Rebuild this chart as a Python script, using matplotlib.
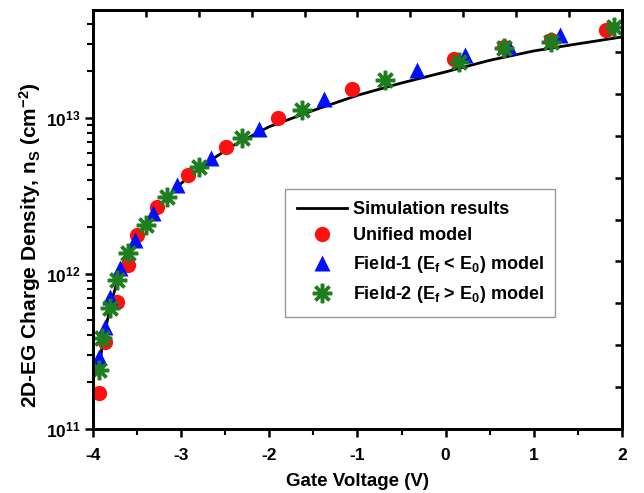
import numpy as np
import matplotlib.pyplot as plt

# simulation curve
sim_v = [-3.93, -3.9, -3.85, -3.8, -3.7, -3.6, -3.5, -3.3, -3.0, -2.7, -2.4, -2.0,
         -1.5, -1.0, -0.5, 0.0, 0.5, 1.0, 1.5, 2.0]
sim_n = [2.2e11, 3.3e11, 4.6e11, 6.3e11, 1.0e12, 1.35e12, 1.75e12, 2.5e12, 3.8e12,
         5.2e12, 6.7e12, 8.8e12, 1.12e13, 1.40e13, 1.68e13, 1.98e13, 2.35e13,
         2.7e13, 3.0e13, 3.32e13]

# unified model
uni_v = [-3.93, -3.86, -3.73, -3.60, -3.50, -3.27, -2.92, -2.49, -1.90, -1.06, 0.09, 0.66, 1.19, 1.82]
uni_n = [1.70e11, 3.63e11, 6.56e11, 1.13e12, 1.77e12, 2.68e12, 4.30e12, 6.51e12,
         1.0e13, 1.54e13, 2.39e13, 2.86e13, 3.17e13, 3.68e13]

# field-1 model
f1_v = [-3.93, -3.86, -3.81, -3.69, -3.52, -3.32, -3.05, -2.66, -2.12, -1.375, -0.32, 0.22, 0.72, 1.30]
f1_n = [2.90e11, 4.53e11, 7.06e11, 1.08e12, 1.64e12, 2.45e12, 3.71e12, 5.53e12,
        8.50e12, 1.33e13, 2.04e13, 2.54e13, 2.85e13, 3.42e13]

# field-2 model
f2_v = [-3.93, -3.90, -3.81, -3.73, -3.60, -3.40, -3.16, -2.80, -2.31, -1.63, -0.69, 0.15, 0.66, 1.19, 1.91]
f2_n = [2.40e11, 3.85e11, 6.0e11, 9.08e11, 1.36e12, 2.05e12, 3.10e12, 4.84e12,
        7.43e12, 1.12e13, 1.75e13, 2.29e13, 2.82e13, 3.08e13, 3.85e13]

plt.rcParams['font.family'] = 'Liberation Sans'
plt.rcParams['font.weight'] = 'bold'
plt.rcParams['mathtext.fontset'] = 'custom'
plt.rcParams['mathtext.rm'] = 'Liberation Sans:bold'
plt.rcParams['mathtext.it'] = 'Liberation Sans:bold'
plt.rcParams['mathtext.bf'] = 'Liberation Sans:bold'
plt.rcParams['axes.unicode_minus'] = False

fig = plt.figure(figsize=(6.44, 4.93), dpi=100)
ax = fig.add_axes([0.1444, 0.1298, 0.8214, 0.8499])

green = '#1e7d1e'
ax.plot(sim_v, sim_n, '-', color='black', lw=2, label='Simulation results', zorder=2)
ax.plot(uni_v, uni_n, 'o', color='#ff1010', ms=11, mec='none', label='Unified model', zorder=3)
ax.plot(f1_v, f1_n, '^', color='#0010ff', ms=12, mec='none',
        label=r'Field-1 (E$_\mathregular{f}$ < E$_\mathregular{0}$) model', zorder=4)
ax.plot(f2_v, f2_n, ls='none', marker=(8, 2, 0), color=green, mec=green, ms=14, mew=2.5,
        label=r'Field-2 (E$_\mathregular{f}$ > E$_\mathregular{0}$) model', zorder=5)

ax.set_yscale('log')
ax.set_xlim(-4, 2)
ax.set_ylim(1e11, 4.95e13)
ax.set_xticks([-4, -3, -2, -1, 0, 1, 2])
ax.set_xticks(np.arange(-3.5, 2, 1.0), minor=True)
ax.set_yticks([1e11, 1e12, 1e13])
ax.set_yticklabels([r'$\mathregular{10^{11}}$', r'$\mathregular{10^{12}}$', r'$\mathregular{10^{13}}$'])
ax.tick_params(axis='both', which='major', labelsize=12.5, width=1.8, length=6, direction='out')
ax.tick_params(axis='x', which='major', pad=8)
ax.tick_params(axis='y', which='major', pad=3)
ax.tick_params(axis='both', which='minor', width=1.5, length=4, direction='out')
ax.tick_params(axis='y', which='minor', labelleft=False)
for s in ax.spines.values():
    s.set_linewidth(1.8)

ax.set_xlabel('Gate Voltage (V)', fontsize=13.5, fontweight='bold', labelpad=7)
ax.set_ylabel(r'2D-EG Charge Density, n$_\mathregular{S}$ (cm$^\mathregular{-2}$)',
              fontsize=15, fontweight='bold')
ax.yaxis.set_label_coords(-0.095, 0.44)

leg = ax.legend(loc='upper left', bbox_to_anchor=(0.363, 0.572), borderaxespad=0,
                fontsize=13, frameon=True, fancybox=False, edgecolor='#999999', framealpha=1,
                handlelength=2.8, handletextpad=0.3, labelspacing=0.52, borderpad=0.65)
leg.get_frame().set_linewidth(1.0)

# mirrored ticks on top and right
top = ax.twiny()
top.set_xlim(-4, 2)
top.set_xticks(np.arange(-4, 2.01, 0.6))
top.tick_params(axis='x', direction='in', length=5, width=1.8, labeltop=False)
right = ax.twinx()
right.set_ylim(0, 1)
right.set_yticks(np.arange(0, 1.01, 0.1))
right.tick_params(axis='y', direction='in', length=5, width=1.8, labelright=False)
for a in (top, right):
    for s in a.spines.values():
        s.set_linewidth(1.8)

fig.savefig('out.png', dpi=100)
